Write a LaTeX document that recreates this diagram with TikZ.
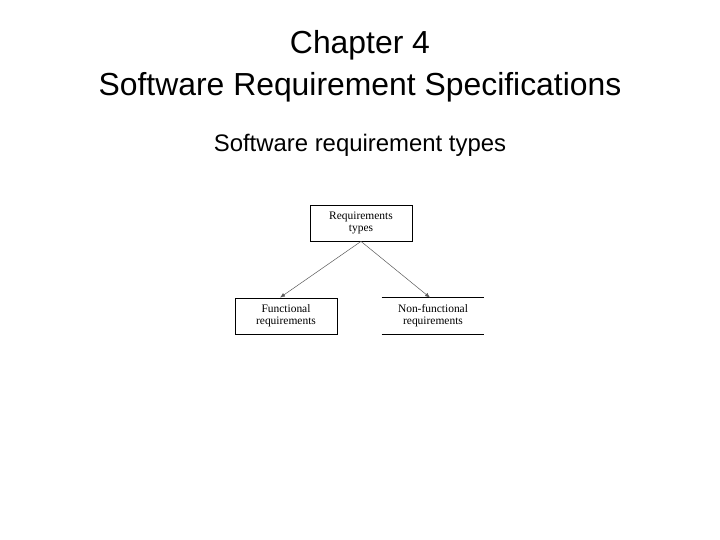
\documentclass[tikz,border=0pt]{standalone}
\usepackage{fontspec}
\setmainfont{Liberation Sans}
\newfontfamily\boxfont{Liberation Serif}
\usetikzlibrary{arrows.meta,positioning}

\begin{document}
\begin{tikzpicture}[
    x=1bp, y=-1bp,
    title/.style={font=\fontsize{32}{42}\selectfont, align=center, inner sep=0pt},
    subtitle/.style={font=\fontsize{24}{28}\selectfont, inner sep=0pt},
    rbox/.style={draw, line width=0.8pt, minimum width=102bp, minimum height=36bp,
                 align=center, font=\boxfont\fontsize{11.5}{12}\selectfont, inner sep=1pt},
    arr/.style={-{Latex[length=5pt,width=4pt]}, line width=0.5pt, black!65}
]
    \useasboundingbox (0,0) rectangle (720,540);

    \node[title] (head) at (360,66) {Chapter 4\\Software Requirement Specifications};
    \node[subtitle] (sub) at (360,145) {Software requirement types};

    \node[rbox] (types) at (361,223) {Requirements\\types};
    \node[rbox] (func) at (286,316) {Functional\\requirements};
    \node[rbox, draw=none] (nonfunc) at (433,316) {Non-functional\\requirements};
    \draw[line width=0.8pt] (nonfunc.north west) -- (nonfunc.north east);
    \draw[line width=0.8pt] (nonfunc.south west) -- (nonfunc.south east);

    \draw[arr] (types.south) -- ([xshift=-6bp]func.north);
    \draw[arr] (types.south) -- ([xshift=-3bp]nonfunc.north);
\end{tikzpicture}
\end{document}
